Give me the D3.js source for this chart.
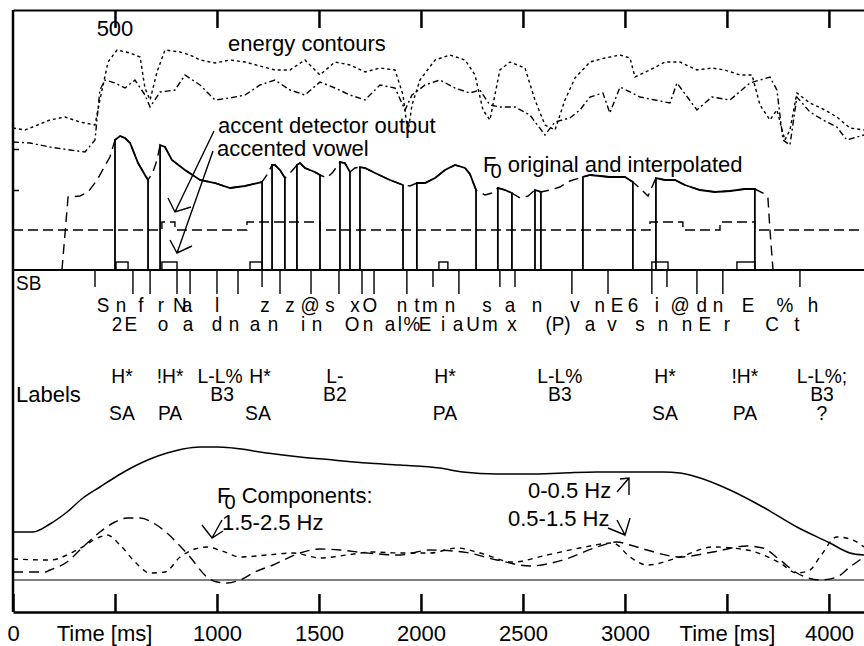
<!DOCTYPE html>
<html>
<head>
<meta charset="utf-8">
<script src="https://cdn.jsdelivr.net/npm/d3@7"></script>
<style>
  body { margin: 0; background: #fff; }
  svg { display: block; }
  text { font-family: "Liberation Sans", Arial, Helvetica, sans-serif; fill: #000; }
</style>
</head>
<body>
<div id="chart"></div>
<script>
// ---------- data (time in ms) ----------
const timeTicks = [0, 500, 1000, 1500, 2000, 2500, 3000, 3500, 4000];
const timeTickLabels = ['0', 'Time [ms]', '1000', '1500', '2000', '2500', '3000', 'Time [ms]', '4000'];

// energy contours (dB, relative)
const energyA = [[0,22],[59,20],[108,24],[181,30],[255,33],[328,28],[402,25],[426,50],[466,88],[510,100],[574,97],[623,93],[647,62],[672,50],[706,78],[745,100],[819,98],[868,95],[917,90],[990,87],[1064,90],[1137,88],[1211,84],[1284,80],[1358,80],[1431,90],[1505,75],[1578,88],[1652,85],[1726,78],[1799,82],[1873,80],[1912,55],[1936,17],[1956,45],[1995,70],[2069,90],[2142,95],[2216,90],[2265,75],[2304,40],[2338,30],[2387,80],[2436,88],[2510,82],[2559,50],[2608,25],[2657,20],[2706,50],[2755,72],[2829,88],[2902,92],[2976,95],[3025,92],[3049,73],[3123,80],[3196,88],[3270,88],[3353,80],[3426,82],[3490,80],[3564,75],[3623,75],[3662,45],[3711,30],[3745,40],[3784,10],[3809,20],[3843,57],[3907,47],[3980,40],[4039,33],[4103,22],[4172,20]];
const energyB = [[0,8],[83,7],[181,3],[279,0],[353,-2],[402,10],[426,60],[451,70],[500,67],[549,62],[598,70],[647,55],[672,43],[721,58],[794,60],[843,75],[917,65],[990,50],[1064,52],[1137,55],[1211,65],[1284,70],[1358,60],[1431,55],[1505,68],[1578,62],[1652,55],[1726,50],[1799,65],[1873,62],[1922,40],[1956,55],[2020,65],[2093,70],[2167,62],[2240,57],[2289,60],[2338,45],[2387,43],[2461,43],[2534,35],[2608,15],[2657,28],[2730,32],[2779,40],[2829,53],[2892,57],[2926,37],[2976,63],[3074,53],[3147,50],[3221,47],[3255,67],[3353,40],[3426,53],[3515,50],[3613,67],[3711,73],[3745,60],[3775,10],[3809,5],[3843,53],[3907,38],[3971,30],[4039,23],[4088,10],[4172,15]];

// F0 original, voiced segments only
const f0Voiced = [
  [[500,130],[525,134],[549,132],[574,127],[613,107],[647,95],[662,90]],
  [[721,125],[745,123],[779,110],[843,100],[917,90],[990,87],[1064,82],[1137,84],[1221,88]],
  [[1270,105],[1284,105],[1309,100],[1333,92]],
  [[1392,105],[1407,107],[1431,102],[1480,98],[1505,95]],
  [[1603,108],[1627,107],[1652,98]],
  [[1701,103],[1726,102],[1775,97],[1848,90],[1912,85]],
  [[1980,87],[2020,87],[2069,92],[2118,100],[2167,105],[2216,102],[2240,96],[2270,80]],
  [[2377,82],[2412,80],[2446,77]],
  [[2559,80],[2588,78]],
  [[2794,93],[2829,95],[2926,93],[3000,93],[3039,88]],
  [[3152,92],[3196,90],[3245,90],[3294,85],[3368,80],[3441,78],[3515,79],[3588,81],[3637,81]]
];
// F0 interpolation through the unvoiced parts
const f0Gaps = [[240,0],[270,73],[328,74],[368,78],[412,90],[475,113],[686,98],[706,110],[1245,95],[1363,98],[1539,92],[1569,98],[1676,102],[1946,84],[2314,75],[2348,77],[2485,72],[2525,74],[2632,80],[2681,83],[2730,89],[3083,80],[3113,74],[3677,77],[3701,72],[3711,40],[3726,0]];

// accent detector output: threshold level and intervals where it is raised
const detectorLow = 40, detectorHigh = 48;
const detectorOn = [[730,794],[1147,1505],[3123,3284],[3466,3637]];
// accented vowels (boxes on the SB line)
const accentedVowels = [[505,564],[730,804],[1162,1221],[2088,2132],[3132,3211],[3549,3637]];
const vowelBoxHeight = 8;
// segment boundaries
const boundariesLong = [588,672,804,868,1000,1103,1309,1461,1598,1711,1770,1931,2186,2740,2917,3132,3353,3480];
const boundariesShort = [402,1221,2059,2387,2461,3206,3858];

// phoneme tiers
const phonTop = ['S','n','f','r','N','a','l','z','z','@','s','x','O','n','t','m','n','s','a','n','v','n','E','6','i','@','d','n','E','%','h'];
const phonTopT = [441,529,627,725,818,853,1000,1235,1358,1456,1554,1676,1750,1907,1980,2044,2142,2324,2436,2569,2755,2877,2961,3039,3157,3270,3377,3456,3603,3784,3922];
const phonBot = ['2','E','o','a','d','n','a','n','i','n','O','n','a','l','%','E','i','a','U','m','x','(P)','a','v','s','n','n','E','r','C','t'];
const phonBotT = [510,578,735,858,1000,1083,1186,1275,1422,1490,1662,1740,1848,1897,1956,2020,2108,2181,2255,2338,2446,2672,2829,2936,3074,3186,3304,3392,3500,3721,3843];

// prosodic labels
const toneLabels = ['H*','!H*','L-L%','H*','L-','H*','L-L%','H*','!H*','L-L%;'];
const toneT = [534,770,1015,1211,1578,2118,2681,3196,3588,3966];
const breakLabels = ['B3','B2','B3','B3'];
const breakT = [1025,1578,2681,3966];
const accentLabels = ['SA','PA','SA','PA','SA','PA','?'];
const accentT = [534,770,1201,2118,3196,3588,3966];

// F0 components
const comp0 = [[0,48],[98,48],[181,56],[265,68],[343,82],[426,93],[510,104],[588,113],[672,121],[755,127],[833,131],[917,133],[1000,133],[1078,132],[1245,127],[1407,123],[1569,120],[1735,117],[1897,115],[2093,112],[2206,108],[2373,106],[2534,106],[2696,107],[2863,108],[3025,108],[3186,108],[3270,107],[3353,103],[3515,90],[3676,73],[3843,53],[4005,37],[4103,27],[4172,25]];
const comp1 = [[0,8],[157,8],[181,10],[265,18],[343,33],[426,48],[500,58],[559,62],[623,62],[696,56],[755,47],[819,34],[868,23],[951,3],[1000,-2],[1049,-3],[1113,0],[1186,8],[1275,15],[1407,27],[1505,31],[1603,30],[1735,27],[1897,25],[2044,30],[2206,28],[2373,20],[2534,14],[2696,20],[2863,33],[2961,38],[3025,35],[3108,30],[3270,23],[3431,28],[3598,34],[3676,32],[3760,20],[3843,7],[3956,0],[4039,3],[4103,13],[4172,23]];
const comp2 = [[0,21],[181,20],[314,30],[426,43],[461,45],[525,35],[598,18],[672,7],[745,8],[819,23],[892,31],[951,33],[1025,29],[1113,23],[1245,25],[1373,27],[1505,22],[1637,25],[1765,28],[1897,27],[2044,27],[2176,32],[2289,27],[2451,18],[2618,25],[2779,32],[2941,37],[3025,23],[3108,15],[3270,23],[3431,33],[3598,30],[3760,17],[3843,7],[3907,10],[3956,23],[4039,43],[4118,40],[4172,33]];

const f0LeftTicks = [80, 121];

// ---------- drawing ----------
const W = 864, H = 646;
const svg = d3.select('#chart').append('svg').attr('width', W).attr('height', H);

const x = d3.scaleLinear().domain([0, 4172]).range([13, 864]);
const yE = d3.scaleLinear().domain([0, 110]).range([150, 40]);
const yF = d3.scaleLinear().domain([0, 140]).range([270, 130]);
const yC = d3.scaleLinear().domain([0, 140]).range([580, 440]);

const txt = (sel, px, py, str, size, sx, anchor) =>
  sel.append('text')
    .attr('transform', `translate(${px},${py}) scale(${sx},1)`)
    .attr('font-size', size)
    .attr('text-anchor', anchor || 'start')
    .text(str);

// frame
svg.append('line').attr('x1', x(0)).attr('x2', x(0)).attr('y1', 10).attr('y2', 612)
  .attr('stroke', '#000').attr('stroke-width', 2.5);

const bottomAxis = svg.append('g').attr('transform', 'translate(0,612)')
  .call(d3.axisBottom(x).tickValues(timeTicks).tickSizeInner(-18).tickSizeOuter(0)
    .tickPadding(13).tickFormat((d, i) => timeTickLabels[i]));
bottomAxis.select('.domain').attr('stroke-width', 2.5);
bottomAxis.selectAll('.tick line').attr('stroke-width', 2.5);
bottomAxis.selectAll('.tick text')
  .attr('font-family', '"Liberation Sans", Arial, sans-serif')
  .attr('font-size', 22).attr('fill', '#000')
  .attr('dx', (d, i) => i === 1 ? -11 : 0);

const topAxis = svg.append('g').attr('transform', 'translate(0,10)')
  .call(d3.axisTop(x).tickValues(timeTicks.slice(1)).tickSizeInner(-18).tickSizeOuter(0).tickFormat(''));
topAxis.select('.domain').attr('stroke-width', 2);
topAxis.selectAll('.tick line').attr('stroke-width', 2.5);
txt(svg, x(500), 36, '500', 22, 1, 'middle');

svg.append('g').attr('transform', `translate(${x(0)},0)`)
  .call(d3.axisRight(yF).tickValues(f0LeftTicks).tickSize(6).tickFormat(''))
  .call(g => g.select('.domain').remove())
  .selectAll('line').attr('stroke-width', 1.5);

// energy contours
const lineE = d3.line().x(d => x(d[0])).y(d => yE(d[1]));
svg.append('path').datum(energyA).attr('d', lineE)
  .attr('fill', 'none').attr('stroke', '#000').attr('stroke-width', 1.4).attr('stroke-dasharray', '3,3');
svg.append('path').datum(energyB).attr('d', lineE)
  .attr('fill', 'none').attr('stroke', '#000').attr('stroke-width', 1.4).attr('stroke-dasharray', '6,3,2,3');
txt(svg, 228, 51, 'energy contours', 22, 1, 'start');

// F0 panel
const lineF = d3.line().x(d => x(d[0])).y(d => yF(d[1]));
const interp = f0Gaps.concat(...f0Voiced).sort((a, b) => a[0] - b[0]);
svg.append('path').datum(interp).attr('d', lineF)
  .attr('fill', 'none').attr('stroke', '#000').attr('stroke-width', 1.4).attr('stroke-dasharray', '10,6');

// accent detector (dashed step line)
const detPts = [[0, detectorLow]];
detectorOn.forEach(([a, b]) => { detPts.push([a, detectorLow], [a, detectorHigh], [b, detectorHigh], [b, detectorLow]); });
detPts.push([x.domain()[1], detectorLow]);
svg.append('path').datum(detPts).attr('d', lineF)
  .attr('fill', 'none').attr('stroke', '#000').attr('stroke-width', 1.4).attr('stroke-dasharray', '10,5');

// F0 original (solid, drops to zero when unvoiced)
f0Voiced.forEach(seg => {
  const pts = [[seg[0][0], 0], ...seg, [seg[seg.length - 1][0], 0]];
  svg.append('path').datum(pts).attr('d', lineF)
    .attr('fill', 'none').attr('stroke', '#000').attr('stroke-width', 1.8);
});

// SB line, accented vowel boxes, boundaries
svg.append('line').attr('x1', x(0)).attr('x2', W).attr('y1', yF(0)).attr('y2', yF(0))
  .attr('stroke', '#000').attr('stroke-width', 2);
svg.selectAll('.vbox').data(accentedVowels).enter().append('rect')
  .attr('x', d => x(d[0])).attr('width', d => x(d[1]) - x(d[0]))
  .attr('y', yF(vowelBoxHeight)).attr('height', yF(0) - yF(vowelBoxHeight))
  .attr('fill', 'none').attr('stroke', '#000').attr('stroke-width', 1.4);
svg.selectAll('.bl').data(boundariesLong).enter().append('line')
  .attr('x1', d => x(d)).attr('x2', d => x(d)).attr('y1', yF(0)).attr('y2', 294)
  .attr('stroke', '#000').attr('stroke-width', 1.4);
svg.selectAll('.bs').data(boundariesShort).enter().append('line')
  .attr('x1', d => x(d)).attr('x2', d => x(d)).attr('y1', yF(0)).attr('y2', 287)
  .attr('stroke', '#000').attr('stroke-width', 1.4);
txt(svg, 16, 290, 'SB', 20, 0.95, 'start');

// annotations upper panel
txt(svg, 218, 133, 'accent detector output', 22, 1, 'start');
txt(svg, 217, 156, 'accented vowel', 22, 1, 'start');
const f0t = svg.append('text').attr('transform', 'translate(483,172)').attr('font-size', 22);
f0t.append('tspan').text('F');
f0t.append('tspan').attr('dx', -6).attr('dy', 6).attr('font-size', 20).text('0');
f0t.append('tspan').attr('dy', -6).text(' original and interpolated');

const arrow = (x0, y0, x1, y1, h1, h2) => {
  svg.append('path').attr('d', `M${x0},${y0}L${x1},${y1}M${h1[0]},${h1[1]}L${x1},${y1}L${h2[0]},${h2[1]}`)
    .attr('fill', 'none').attr('stroke', '#000').attr('stroke-width', 1.4);
};
arrow(214, 131, 175, 212, [168, 198], [191, 207]);
arrow(213, 151, 177, 253, [170, 240], [192, 246]);

// phoneme tiers
const phon = svg.append('g');
phonTop.forEach((p, i) => txt(phon, x(phonTopT[i]), 312, p, 21, 0.9, 'middle'));
phonBot.forEach((p, i) => txt(phon, x(phonBotT[i]), 331, p, 21, 0.9, 'middle'));

// labels
const lab = svg.append('g');
txt(lab, 16, 402, 'Labels', 22, 1, 'start');
toneLabels.forEach((p, i) => txt(lab, x(toneT[i]), 383, p, 21, 0.92, 'middle'));
breakLabels.forEach((p, i) => txt(lab, x(breakT[i]), 401, p, 21, 0.92, 'middle'));
accentLabels.forEach((p, i) => txt(lab, x(accentT[i]), 420, p, 21, 0.92, 'middle'));

// F0 components
const lineC = d3.line().x(d => x(d[0])).y(d => yC(d[1])).curve(d3.curveMonotoneX);
svg.append('line').attr('x1', x(0)).attr('x2', W).attr('y1', yC(0)).attr('y2', yC(0))
  .attr('stroke', '#000').attr('stroke-width', 1.2);
svg.append('path').datum(comp0).attr('d', lineC)
  .attr('fill', 'none').attr('stroke', '#000').attr('stroke-width', 1.5);
svg.append('path').datum(comp1).attr('d', lineC)
  .attr('fill', 'none').attr('stroke', '#000').attr('stroke-width', 1.4).attr('stroke-dasharray', '10,6');
svg.append('path').datum(comp2).attr('d', lineC)
  .attr('fill', 'none').attr('stroke', '#000').attr('stroke-width', 1.4).attr('stroke-dasharray', '5,5');

const cf = svg.append('text').attr('transform', 'translate(217,503)').attr('font-size', 22);
cf.append('tspan').text('F');
cf.append('tspan').attr('dx', -6).attr('dy', 6).attr('font-size', 20).text('0');
cf.append('tspan').attr('dy', -6).text(' Components:');
txt(svg, 222, 530, '1.5-2.5 Hz', 22, 1, 'start');
txt(svg, 528, 498, '0-0.5 Hz', 22, 1, 'start');
txt(svg, 508, 526, '0.5-1.5 Hz', 22, 1, 'start');
arrow(222, 520, 212, 538, [202, 525], [223, 531]);
arrow(617, 492, 629, 478, [620, 479], [629, 495]);
arrow(608, 528, 625, 535, [617, 520], [630, 518]);
</script>
</body>
</html>
